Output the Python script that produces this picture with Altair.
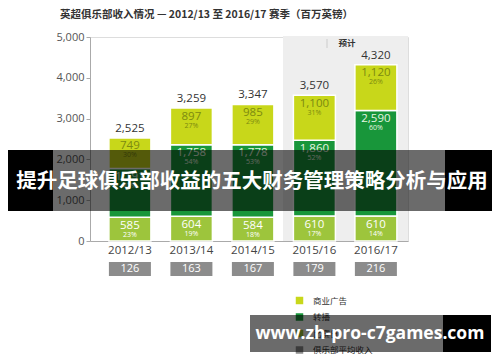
import altair as alt
import pandas as pd

# ---- data ----
seasons = ["2012/13", "2013/14", "2014/15", "2015/16", "2016/17"]
commercial = [749, 897, 985, 1100, 1120]
broadcast = [1191, 1758, 1778, 1860, 2590]
matchday = [585, 604, 584, 610, 610]
commercial_pct = [30, 27, 29, 31, 26]
broadcast_pct = [47, 54, 53, 52, 60]
matchday_pct = [23, 19, 18, 17, 14]
totals = [2525, 3259, 3347, 3570, 4320]
avg_revenue = [126, 163, 167, 179, 216]
y_ticks = [0, 1000, 2000, 3000, 4000, 5000]
legend_labels = ["商业广告", "转播", "比赛日", "俱乐部平均收入"]

title_text = "英超俱乐部收入情况 — 2012/13 至 2016/17 赛季（百万英镑）"
forecast_text = "预计"
banner_text = "提升足球俱乐部收益的五大财务管理策略分析与应用"
watermark_text = "www.zh-pro-c7games.com"

C_COM = "#c8d71a"
C_BRO = "#18963a"
C_MAT = "#9dc53c"
C_AVG = "#8c8c8c"
legend_colors = [C_COM, C_BRO, C_MAT, C_AVG]
FONT = "Open Sans"
CJK = "Noto Sans CJK SC"

# ---- tables built from the lists ----
rows = []
for i, s in enumerate(seasons):
    base = 0
    for seg, vals, pcts, col, tcol in [
        ("比赛日", matchday, matchday_pct, C_MAT, "#ffffff"),
        ("转播", broadcast, broadcast_pct, C_BRO, "#e6f5e0"),
        ("商业广告", commercial, commercial_pct, C_COM, "#7c8a10"),
    ]:
        v = vals[i]
        rows.append(dict(season=s, seg=seg, y0=base, y1=base + v,
                         val=f"{v:,}", pct=f"{pcts[i]}%", fill=col, tcol=tcol))
        base += v
seg_df = pd.DataFrame(rows)
tot_df = pd.DataFrame(dict(season=seasons, total=totals,
                           label=[f"{t:,}" for t in totals],
                           avg=[str(a) for a in avg_revenue]))
one = pd.DataFrame({"a": [0]})

xscale = alt.Scale(domain=seasons, paddingInner=0.317, paddingOuter=0.244, align=0.63)
yscale = alt.Scale(domain=[0, 5000], nice=False)

x_axis = alt.Axis(title=None, labelAngle=0, ticks=False, labelPadding=3,
                  labelFontSize=11.5, labelColor="#444", labelFont=FONT,
                  domainColor="#aaaaaa", domainWidth=1, grid=False)
y_axis = alt.Axis(title=None, values=y_ticks, format=",.0f", grid=False,
                  tickSize=4, tickColor="#aaaaaa", domainColor="#aaaaaa",
                  labelPadding=2, labelFontSize=11, labelColor="#555",
                  labelFont=FONT)

X = alt.X("season:N", scale=xscale, axis=x_axis, sort=seasons)


def Y(field):
    return alt.Y(field, scale=yscale, axis=y_axis)


forecast_bg = alt.Chart(one).mark_rect(color="#eeeeee").encode(
    x=alt.value(193), x2=alt.value(318), y=alt.value(-1), y2=alt.value(204))

bars = alt.Chart(seg_df).mark_bar(stroke="white", strokeWidth=1.5).encode(
    x=X, y=Y("y1:Q"), y2="y0:Q",
    color=alt.Color("fill:N", scale=None),
)

seg_val = alt.Chart(seg_df).mark_text(baseline="middle", dy=8.5, fontSize=11.5, font=FONT).encode(
    x=X, y=Y("y1:Q"), text="val:N",
    color=alt.Color("tcol:N", scale=None),
)
seg_pct = alt.Chart(seg_df).mark_text(baseline="middle", dy=17.5, fontSize=7, font=FONT).encode(
    x=X, y=Y("y1:Q"), text="pct:N",
    color=alt.Color("tcol:N", scale=None),
)
tot_text = alt.Chart(tot_df).mark_text(baseline="middle", dy=-9, fontSize=11.5,
                                       font=FONT, color="#333").encode(
    x=X, y=Y("total:Q"), text="label:N",
)
avg_box = alt.Chart(tot_df).mark_rect(color=C_AVG).encode(
    x=X, y=alt.value(225), y2=alt.value(239),
)
avg_text = alt.Chart(tot_df).mark_text(baseline="middle", fontSize=11, font=FONT,
                                       color="white").encode(
    x=X, y=alt.value(232), text="avg:N",
)

title = alt.Chart(one).mark_text(align="left", baseline="middle", fontSize=10.5,
                                 fontWeight="bold", font=CJK, color="#333").encode(
    x=alt.value(-30), y=alt.value(-22.5), text=alt.value(title_text))
fc_label = alt.Chart(one).mark_text(align="center", baseline="middle", fontSize=8.5,
                                    fontWeight="bold", font=CJK, color="#333").encode(
    x=alt.value(257), y=alt.value(6), text=alt.value(forecast_text))
fc_tick = alt.Chart(one).mark_rule(color="#cccccc").encode(
    x=alt.value(237), y=alt.value(2), y2=alt.value(11))

legend_layers = []
for i, (lab, col) in enumerate(zip(legend_labels, legend_colors)):
    ly = 263.5 + i * 16.5
    legend_layers.append(alt.Chart(one).mark_square(size=56, opacity=1, color=col).encode(
        x=alt.value(209.5), y=alt.value(ly)))
    legend_layers.append(alt.Chart(one).mark_text(align="left", baseline="middle", fontSize=8.5,
                                                  font=CJK, color="#333").encode(
        x=alt.value(223), y=alt.value(ly), text=alt.value(lab)))

# overlay banners
b1_l = alt.Chart(one).mark_rect(color="black").encode(
    x=alt.value(-82), x2=alt.value(-37), y=alt.value(113), y2=alt.value(174))
b1_m = alt.Chart(one).mark_rect(color="black", opacity=0.58).encode(
    x=alt.value(-37), x2=alt.value(355), y=alt.value(113), y2=alt.value(174))
b1_r = alt.Chart(one).mark_rect(color="black").encode(
    x=alt.value(355), x2=alt.value(402), y=alt.value(113), y2=alt.value(174))
b1_t = alt.Chart(one).mark_text(align="center", baseline="middle", fontSize=20.5,
                                fontWeight="bold", font=CJK, color="white").encode(
    x=alt.value(162), y=alt.value(145), text=alt.value(banner_text))

b2_m = alt.Chart(one).mark_rect(color="black", opacity=0.58).encode(
    x=alt.value(160), x2=alt.value(353), y=alt.value(278), y2=alt.value(315))
b2_r = alt.Chart(one).mark_rect(color="black").encode(
    x=alt.value(353), x2=alt.value(401), y=alt.value(278), y2=alt.value(315))
b2_t = alt.Chart(one).mark_text(align="center", baseline="middle", fontSize=17.5,
                                fontWeight="bold", font=FONT, color="white").encode(
    x=alt.value(280), y=alt.value(297), text=alt.value(watermark_text))

chart = alt.layer(
    forecast_bg, bars, seg_val, seg_pct, tot_text, avg_box, avg_text,
    title, fc_tick, fc_label, *legend_layers,
    b1_l, b1_m, b1_r, b1_t, b2_m, b2_r, b2_t,
).properties(
    width=318, height=204,
    autosize=alt.AutoSizeParams(type="none"),
    padding={"left": 82, "top": 29, "right": 84, "bottom": 113},
).configure_view(stroke=None).configure(background="white")

chart.save("out.html", embed_options={"renderer": "svg", "actions": False})
